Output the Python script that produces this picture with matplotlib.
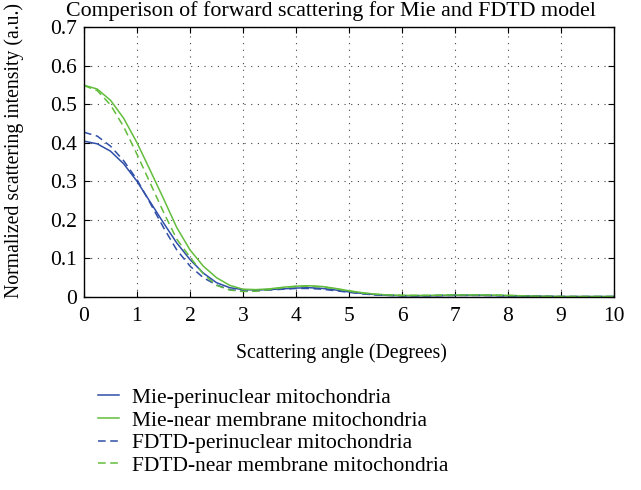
import numpy as np
import matplotlib
matplotlib.use('Agg')
import matplotlib.pyplot as plt

# ------------------------------------------------------------------------------
# data
angle = [0, 0.25, 0.5, 0.75, 1.0, 1.25, 1.5, 1.75, 2.0, 2.25, 2.5, 2.75,
         3.0, 3.25, 3.5, 3.75, 4.0, 4.25, 4.5, 4.75, 5.0, 5.25, 5.5, 5.75,
         6.0, 6.5, 7.0, 7.5, 8.0, 8.5, 9.0, 9.5, 10.0]

mie_peri = [0.404, 0.397, 0.378, 0.345, 0.300, 0.246, 0.192, 0.140, 0.097,
            0.062, 0.037, 0.024, 0.019, 0.018, 0.019, 0.021, 0.023, 0.024,
            0.022, 0.018, 0.013, 0.009, 0.006, 0.004, 0.003, 0.003, 0.004,
            0.004, 0.003, 0.002, 0.001, 0.001, 0.001]

mie_near = [0.549, 0.539, 0.510, 0.463, 0.400, 0.328, 0.255, 0.180, 0.122,
            0.080, 0.050, 0.030, 0.020, 0.019, 0.021, 0.025, 0.028, 0.029,
            0.027, 0.022, 0.016, 0.011, 0.007, 0.005, 0.004, 0.004, 0.005,
            0.005, 0.004, 0.002, 0.001, 0.001, 0.001]

fdtd_peri = [0.427, 0.417, 0.391, 0.353, 0.304, 0.243, 0.180, 0.122, 0.080,
             0.050, 0.031, 0.019, 0.015, 0.016, 0.018, 0.020, 0.022, 0.022,
             0.020, 0.016, 0.012, 0.008, 0.005, 0.004, 0.003, 0.003, 0.004,
             0.004, 0.003, 0.002, 0.001, 0.001, 0.001]

fdtd_near = [0.548, 0.535, 0.498, 0.441, 0.370, 0.295, 0.220, 0.150, 0.103,
             0.060, 0.030, 0.018, 0.014, 0.015, 0.019, 0.024, 0.027, 0.028,
             0.026, 0.021, 0.015, 0.010, 0.007, 0.005, 0.004, 0.004, 0.005,
             0.005, 0.004, 0.002, 0.001, 0.001, 0.001]

labels = ['Mie-perinuclear mitochondria',
          'Mie-near membrane mitochondria',
          'FDTD-perinuclear mitochondria',
          'FDTD-near membrane mitochondria']

x_ticks = list(range(0, 11))
y_ticks = [0, 0.1, 0.2, 0.3, 0.4, 0.5, 0.6, 0.7]
y_tick_labels = ['0', '0.1', '0.2', '0.3', '0.4', '0.5', '0.6', '0.7']

# ------------------------------------------------------------------------------
# style
plt.rcParams['font.family'] = ['Liberation Serif', 'DejaVu Serif']

blue = '#2f4fa8'
green = '#62bd3c'

fig = plt.figure(figsize=(6.41, 4.90), dpi=100)
ax = fig.add_axes([0.131, 0.394, 0.827, 0.551])

l1, = ax.plot(angle, mie_peri, color=blue, lw=1.1, ls='-')
l2, = ax.plot(angle, mie_near, color=green, lw=1.1, ls='-')
l3, = ax.plot(angle, fdtd_peri, color=blue, lw=1.1, ls=(0, (5, 3)))
l4, = ax.plot(angle, fdtd_near, color=green, lw=1.1, ls=(0, (5, 3)))

ax.set_xlim(0, 10)
ax.set_ylim(0, 0.7)
ax.set_xticks(x_ticks)
ax.set_yticks(y_ticks)
ax.set_yticklabels(y_tick_labels)
ax.tick_params(direction='in', top=True, right=True, length=4, width=0.8,
               labelsize=15.5)
ax.tick_params(axis='x', pad=7)
ax.tick_params(axis='y', pad=5)
ax.grid(True, color='#444444', ls=(0, (1, 5)), lw=0.8)
for s in ax.spines.values():
    s.set_linewidth(1.0)

# title sits a little left of the axes centre in the original
fig.text(331 / 641, 1 - 11 / 490,
         'Comperison of forward scattering for Mie and FDTD model',
         fontsize=15.8, ha='center', va='center')
ax.set_xlabel('Scattering angle (Degrees)', fontsize=14.2)
ax.xaxis.set_label_coords(0.485, -0.170)
ax.set_ylabel('Normalized scattering intensity (a.u.)', fontsize=14.2)
ax.yaxis.set_label_coords(-0.113, 0.543)

fig.legend([l1, l2, l3, l4], labels, loc='upper left',
           bbox_to_anchor=(0.139, 0.226), frameon=False, fontsize=15.5,
           handlelength=1.0, handletextpad=0.6, labelspacing=0.12,
           borderaxespad=0)

fig.savefig('out.png', dpi=100)
